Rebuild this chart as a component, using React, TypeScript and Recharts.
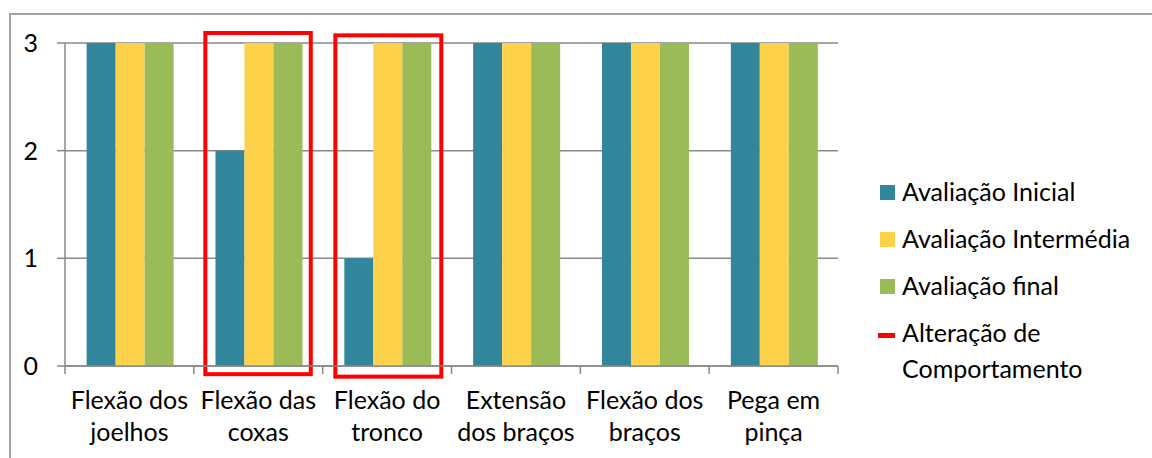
import React from "react";
import {
  BarChart, Bar, XAxis, YAxis, CartesianGrid, Legend, ReferenceArea,
} from "recharts";

const CATEGORIES = [
  "Flexão dos\njoelhos",
  "Flexão das\ncoxas",
  "Flexão do\ntronco",
  "Extensão\ndos braços",
  "Flexão dos\nbraços",
  "Pega em\npinça",
];
const INICIAL = [3, 2, 1, 3, 3, 3];
const INTERMEDIA = [3, 3, 3, 3, 3, 3];
const FINAL = [3, 3, 3, 3, 3, 3];
const Y_TICKS = [0, 1, 2, 3];

// categories marked with a red box ("Alteração de Comportamento")
const BOX_CATEGORIES = ["Flexão das\ncoxas", "Flexão do\ntronco"];
const BOX_LOW = [-0.076, -0.099];
const BOX_HIGH = [3.093, 3.071];

const BOX_INSETS = [[11.5, 11.9], [12.7, 10.2]];

const FONT = "Lato, 'Open Sans', sans-serif";
const FS = 25;
const AXIS_GRAY = "#898989";
const RED = "#FF0000";

const data = CATEGORIES.map((name, i) => ({
  name,
  inicial: INICIAL[i],
  intermedia: INTERMEDIA[i],
  final: FINAL[i],
}));

// label in two lines + Excel-style tick marks on the category boundaries
function CategoryTick({ x, y, payload, width, visibleTicksCount, index }: any) {
  const lines = String(payload.value).split("\n");
  const band = Number(width) / Number(visibleTicksCount);
  const marks = [x - band / 2];
  if (index === visibleTicksCount - 1) marks.push(x + band / 2);
  return (
    <g>
      {Number.isFinite(band) &&
        marks.map((mx, i) => (
          <line key={i} x1={mx} x2={mx} y1={y} y2={y + 8} stroke={AXIS_GRAY} strokeWidth={1.5} />
        ))}
      <text x={x} y={y} textAnchor="middle" fill="#000" fontSize={FS} fontFamily={FONT}>
        {lines.map((l, i) => (
          <tspan key={i} x={x} dy={i === 0 ? 43 : 32}>{l}</tspan>
        ))}
      </text>
    </g>
  );
}

function LegendBox({ payload }: any) {
  const items = (payload || []).map((p: any) => ({ label: p.value, color: p.color, line: false }));
  items.push({ label: "Alteração de\nComportamento", color: RED, line: true });
  return (
    <div style={{ display: "flex", flexDirection: "column", gap: 11, fontFamily: FONT, fontSize: FS, color: "#000" }}>
      {items.map((it: any, i: number) => (
        <div key={i} style={{ display: "flex", alignItems: "flex-start", lineHeight: "36px" }}>
          <div style={{ width: 17, display: "flex", justifyContent: "flex-end", flexShrink: 0 }}>
            {it.line ? (
              <div style={{ width: 17, height: 5, marginTop: 19, background: it.color }} />
            ) : (
              <div style={{ width: 15, height: 15, marginTop: 12, background: it.color }} />
            )}
          </div>
          <div style={{ marginLeft: 7, whiteSpace: "pre" }}>{it.label}</div>
        </div>
      ))}
    </div>
  );
}

export default function App() {
  return (
    <div style={{ position: "absolute", left: 0, top: 0, width: 1152, height: 458, overflow: "hidden", background: "#fff" }}>
      <div style={{ position: "absolute", left: 9, top: 13, width: 1200, height: 500, border: "2px solid #a3a3a3" }} />
      <div style={{ position: "absolute", left: 0, top: 0 }}>
        <BarChart
          width={1152}
          height={458}
          data={data}
          margin={{ top: 43, right: 314, bottom: 0, left: 0 }}
          barCategoryGap="16.8%"
          barGap={0}
        >
          <CartesianGrid vertical={false} stroke={AXIS_GRAY} strokeWidth={1.5} />
          <XAxis
            dataKey="name"
            height={92}
            interval={0}
            tickLine={false}
            tickSize={0}
            tickMargin={0}
            axisLine={{ stroke: AXIS_GRAY, strokeWidth: 1.5 }}
            tick={<CategoryTick />}
          />
          <YAxis
            width={65}
            domain={[0, 3]}
            ticks={Y_TICKS}
            tickSize={8}
            tickMargin={19}
            axisLine={{ stroke: AXIS_GRAY, strokeWidth: 1.5 }}
            tickLine={{ stroke: AXIS_GRAY, strokeWidth: 1.5 }}
            tick={{ fill: "#000", fontSize: FS, fontFamily: FONT }}
          />
          <Bar dataKey="inicial" name="Avaliação Inicial" fill="#31869C" isAnimationActive={false} />
          <Bar dataKey="intermedia" name="Avaliação Intermédia" fill="#FDD24A" isAnimationActive={false} />
          <Bar dataKey="final" name="Avaliação final" fill="#9BBB59" isAnimationActive={false} />
          {BOX_CATEGORIES.map((c, i) => (
            <ReferenceArea
              key={c}
              x1={c}
              x2={c}
              y1={BOX_LOW[i]}
              y2={BOX_HIGH[i]}
              ifOverflow="visible"
              shape={(p: any) => (
                <rect
                  x={p.x + BOX_INSETS[i][0]}
                  y={p.y}
                  width={p.width - BOX_INSETS[i][0] - BOX_INSETS[i][1]}
                  height={p.height}
                  fill="none"
                  stroke={RED}
                  strokeWidth={4}
                />
              )}
            />
          ))}
          <Legend
            layout="vertical"
            align="center"
            verticalAlign="middle"
            wrapperStyle={{ left: 878, top: 173, width: 270, height: 240 }}
            content={<LegendBox />}
          />
        </BarChart>
      </div>
    </div>
  );
}
